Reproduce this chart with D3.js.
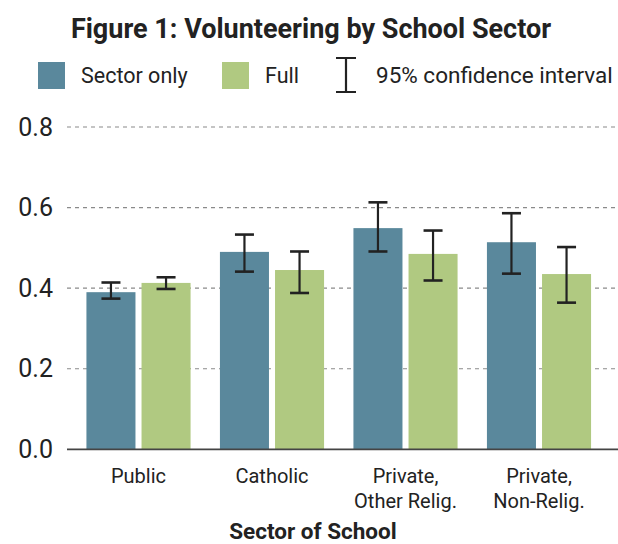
<!DOCTYPE html>
<html>
<head>
<meta charset="utf-8">
<script src="https://cdn.jsdelivr.net/npm/d3@7"></script>
<style>
  body { margin: 0; background: #fff; }
  svg { display: block; }
  .narrow { font-family: "Roboto", "Liberation Sans", sans-serif; fill: #222; }
</style>
</head>
<body>
<svg id="chart" width="618" height="544"></svg>
<script>
const sectors     = ['Public', 'Catholic', 'Private, Other Relig.', 'Private, Non-Relig.'];
const sectorLines = [['Public'], ['Catholic'], ['Private,', 'Other Relig.'], ['Private,', 'Non-Relig.']];
const seriesNames = ['Sector only', 'Full'];
const seriesColors = ['#5a889c', '#b0c981'];
const sectorOnly  = [0.390, 0.490, 0.549, 0.514];
const sectorOnlyLo = [0.374, 0.441, 0.491, 0.436];
const sectorOnlyHi = [0.414, 0.533, 0.613, 0.586];
const full        = [0.413, 0.445, 0.485, 0.435];
const fullLo      = [0.398, 0.388, 0.419, 0.364];
const fullHi      = [0.427, 0.491, 0.543, 0.502];
const yTicks      = [0, 0.2, 0.4, 0.6, 0.8];

const rows = sectors.map((s, i) => ({
  sector: s,
  lines:  sectorLines[i],
  bars: [
    {key: seriesNames[0], v: sectorOnly[i], lo: sectorOnlyLo[i], hi: sectorOnlyHi[i]},
    {key: seriesNames[1], v: full[i],       lo: fullLo[i],       hi: fullHi[i]},
  ]
}));

const svg = d3.select('#chart');
const plot = {left: 67, right: 618, top: 127, bottom: 449.3};

const x = d3.scaleBand().domain(sectors).range([71.75, 605.75]).paddingInner(0.22).paddingOuter(0.11);
const xs = d3.scaleBand().domain(seriesNames).range([0, x.bandwidth()]).paddingInner(0.11);
const y = d3.scaleLinear().domain([0, 0.8]).range([plot.bottom, plot.top]);

// title
svg.append('text')
   .attr('class', 'narrow')
   .attr('x', 311).attr('y', 38)
   .attr('text-anchor', 'middle')
   .attr('font-size', 27).attr('font-weight', 'bold')
   .text('Figure 1: Volunteering by School Sector');

// legend
const legend = svg.append('g');
seriesNames.forEach((name, i) => {
  const lx = [38, 222][i];
  legend.append('rect').attr('x', lx).attr('y', 62).attr('width', 27).attr('height', 27).attr('fill', seriesColors[i]);
  legend.append('text').attr('class', 'narrow').attr('x', lx + 43).attr('y', 83)
        .attr('font-size', 21.5).text(name);
});
legend.append('path')
      .attr('d', 'M336,58H356M346,58V92M336,92H356')
      .attr('stroke', '#222').attr('stroke-width', 2.2).attr('fill', 'none');
legend.append('text').attr('class', 'narrow').attr('x', 376).attr('y', 83)
      .attr('font-size', 22.5).text('95% confidence interval');

// y axis labels
const yAxis = d3.axisLeft(y).tickValues(yTicks).tickFormat(d3.format('.1f')).tickSize(0).tickPadding(14);
const yG = svg.append('g').attr('transform', `translate(${plot.left},0)`).call(yAxis);
yG.select('.domain').remove();
yG.selectAll('text').attr('class', 'narrow').attr('font-size', 25).attr('fill', '#111');

// grid
svg.append('g').selectAll('line')
   .data(yTicks.filter(d => d > 0))
   .join('line')
   .attr('x1', plot.left).attr('x2', plot.right)
   .attr('y1', d => y(d)).attr('y2', d => y(d))
   .attr('stroke', '#8a8a8a').attr('stroke-width', 1.2).attr('stroke-dasharray', '4,4');

// bars
const groups = svg.append('g').selectAll('g')
  .data(rows)
  .join('g')
  .attr('transform', d => `translate(${x(d.sector)},0)`);

groups.selectAll('rect')
  .data(d => d.bars)
  .join('rect')
  .attr('x', d => xs(d.key))
  .attr('width', xs.bandwidth())
  .attr('y', d => y(d.v))
  .attr('height', d => y(0) - y(d.v))
  .attr('fill', (d, i) => seriesColors[i]);

// error bars
const err = groups.selectAll('g.err')
  .data(d => d.bars)
  .join('g').attr('class', 'err')
  .attr('transform', d => `translate(${xs(d.key) + xs.bandwidth() / 2},0)`);
err.append('line').attr('y1', d => y(d.lo)).attr('y2', d => y(d.hi))
   .attr('stroke', '#222').attr('stroke-width', 2.2);
err.selectAll('line.cap')
   .data(d => [d.lo, d.hi])
   .join('line').attr('class', 'cap')
   .attr('x1', -9.5).attr('x2', 9.5)
   .attr('y1', d => y(d)).attr('y2', d => y(d))
   .attr('stroke', '#222').attr('stroke-width', 2.6);

// baseline
svg.append('line')
   .attr('x1', plot.left).attr('x2', plot.right)
   .attr('y1', y(0)).attr('y2', y(0))
   .attr('stroke', '#444').attr('stroke-width', 1.8);

// x labels
const xl = svg.append('g').selectAll('text')
  .data(rows)
  .join('text')
  .attr('class', 'narrow')
  .attr('text-anchor', 'middle')
  .attr('font-size', 20)
  .attr('transform', d => `translate(${x(d.sector) + x.bandwidth() / 2},483)`);
xl.selectAll('tspan')
  .data(d => d.lines)
  .join('tspan')
  .attr('x', 0)
  .attr('y', (d, i) => i * 25)
  .text(d => d);

svg.append('text')
   .attr('class', 'narrow')
   .attr('x', 313).attr('y', 539)
   .attr('text-anchor', 'middle')
   .attr('font-size', 22.5).attr('font-weight', 'bold')
   .text('Sector of School');
</script>
</body>
</html>
